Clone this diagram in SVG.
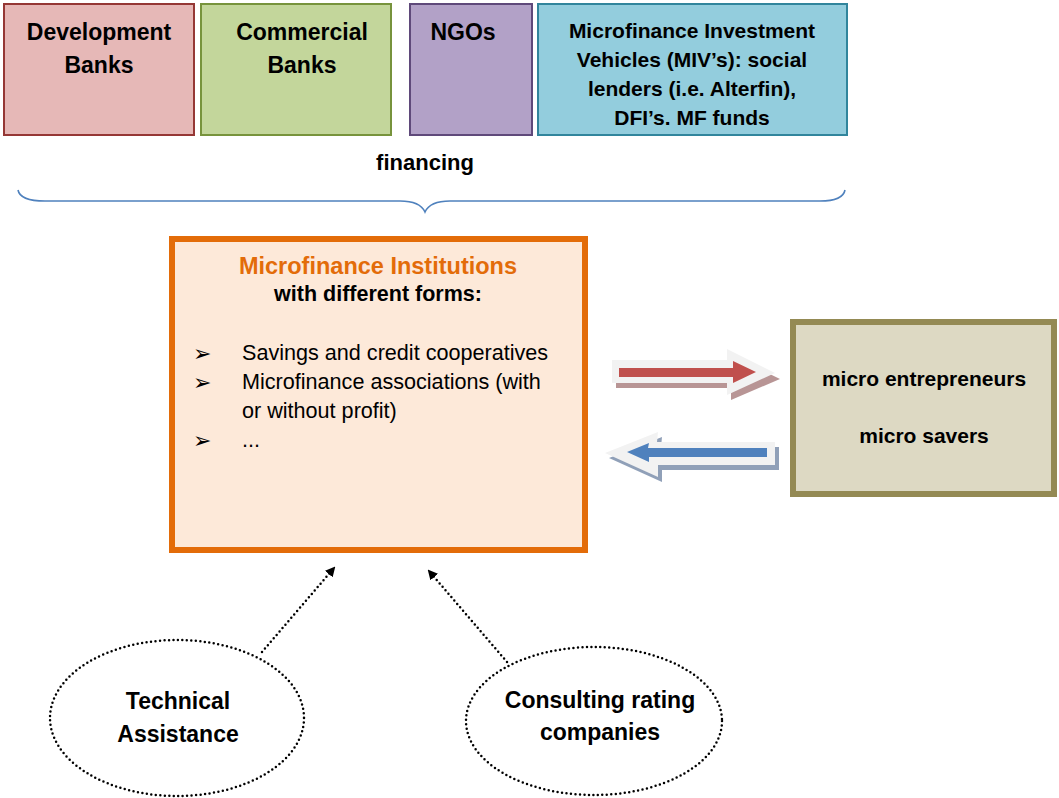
<svg xmlns="http://www.w3.org/2000/svg" width="1059" height="798" viewBox="0 0 1059 798">
<defs>
<style>
text{font-family:"Liberation Sans",Arial,sans-serif;fill:#000}
.b{font-weight:bold;font-size:23px}
.m{font-weight:bold;font-size:21px}
.r{font-size:21.6px}
.c{text-anchor:middle}
.dot{fill:none;stroke:#000;stroke-width:2.5;stroke-dasharray:0 4.5;stroke-linecap:round}
</style>
<marker id="ah" markerWidth="10" markerHeight="10" refX="8" refY="5" orient="auto" markerUnits="userSpaceOnUse" viewBox="0 0 10 10">
<path d="M0,0 L10,5 L0,10 Z" fill="#000"/>
</marker>
</defs>
<rect width="1059" height="798" fill="#fff"/>

<g id="dev-banks">
<rect x="4" y="4" width="190" height="131" fill="#e6b8b7" stroke="#953735" stroke-width="2"/>
<text class="b c" x="99" y="40">Development</text>
<text class="b c" x="99" y="73">Banks</text>
</g>
<g id="commercial-banks">
<rect x="201" y="4" width="190" height="131" fill="#c3d69b" stroke="#77933c" stroke-width="2"/>
<text class="b c" x="302" y="40">Commercial</text>
<text class="b c" x="302" y="73">Banks</text>
</g>
<g id="ngos">
<rect x="410" y="4" width="122" height="131" fill="#b2a1c7" stroke="#5f497a" stroke-width="2"/>
<text class="b c" x="463" y="40">NGOs</text>
</g>
<g id="miv">
<rect x="538" y="4" width="309" height="131" fill="#93cddd" stroke="#31859c" stroke-width="2"/>
<text class="m c" x="692" y="38">Microfinance Investment</text>
<text class="m c" x="692" y="67">Vehicles (MIV’s): social</text>
<text class="m c" x="692" y="96">lenders (i.e. Alterfin),</text>
<text class="m c" x="692" y="125">DFI’s. MF funds</text>
</g>

<g id="financing">
<text class="c" x="425" y="170" style="font-weight:bold;font-size:22px">financing</text>
<path d="M18,190 Q20,201 45,201 L400,201 Q420,201 425,212 Q430,201 450,201 L820,201 Q843,201 845,190" fill="none" stroke="#4f81bd" stroke-width="1.6"/>
</g>

<g id="mfi">
<rect x="172" y="239" width="413" height="311" fill="#fde9d9" stroke="#e36c09" stroke-width="6"/>
<text class="c" x="378" y="274" style="font-weight:bold;font-size:23.5px;fill:#e36c09">Microfinance Institutions</text>
<text class="c" x="378" y="301" style="font-weight:bold;font-size:21.5px">with different forms:</text>
<text x="193" y="361" style="font-family:'DejaVu Sans',sans-serif;font-size:22px">➢</text>
<text x="193" y="390" style="font-family:'DejaVu Sans',sans-serif;font-size:22px">➢</text>
<text x="193" y="448" style="font-family:'DejaVu Sans',sans-serif;font-size:22px">➢</text>
<text class="r" x="242" y="360">Savings and credit cooperatives</text>
<text class="r" x="242" y="389">Microfinance associations (with</text>
<text class="r" x="242" y="418">or without profit)</text>
<text class="r" x="242" y="447">...</text>
</g>

<g id="micro">
<rect x="793" y="322" width="261" height="172" fill="#ddd9c3" stroke="#948a54" stroke-width="6"/>
<text class="m c" x="924" y="386">micro entrepreneurs</text>
<text class="m c" x="924" y="443">micro savers</text>
</g>

<g id="ta">
<ellipse cx="177" cy="718" rx="127" ry="78" fill="#fff" class="dot"/>
<text class="b c" x="178" y="709">Technical</text>
<text class="b c" x="178" y="742">Assistance</text>
</g>
<g id="crc">
<ellipse cx="594" cy="721" rx="128" ry="74" fill="#fff" class="dot"/>
<text class="b c" x="600" y="708">Consulting rating</text>
<text class="b c" x="600" y="740">companies</text>
</g>

<g id="connectors">
<path d="M616,365 L731,365 L731,355 L780,379 L731,400 L731,388 L616,388 Z" fill="#b08a8a" opacity="0.9"/>
<path d="M612,360 L727,360 L727,349 L775,373 L727,395 L727,383 L612,383 Z" fill="#f2f2f2"/>
<path d="M619,368 L733,368 L733,361 L756,372 L733,383 L733,377 L619,377 Z" fill="#c0504d"/>
<path d="M661,447 L779,447 L779,470 L662,470 L662,482 L609,458 L662,437 Z" fill="#8496b0" opacity="0.9"/>
<path d="M657,442 L775,442 L775,465 L658,465 L658,477 L605,453 L658,432 Z" fill="#f2f2f2"/>
<path d="M648,448 L767,448 L767,457 L649,457 L649,462 L627,452 L649,443 Z" fill="#4f81bd"/>
<path d="M262,652 L334,568" class="dot" marker-end="url(#ah)"/>
<path d="M507,662 L429,571" class="dot" marker-end="url(#ah)"/>
</g>
</svg>
